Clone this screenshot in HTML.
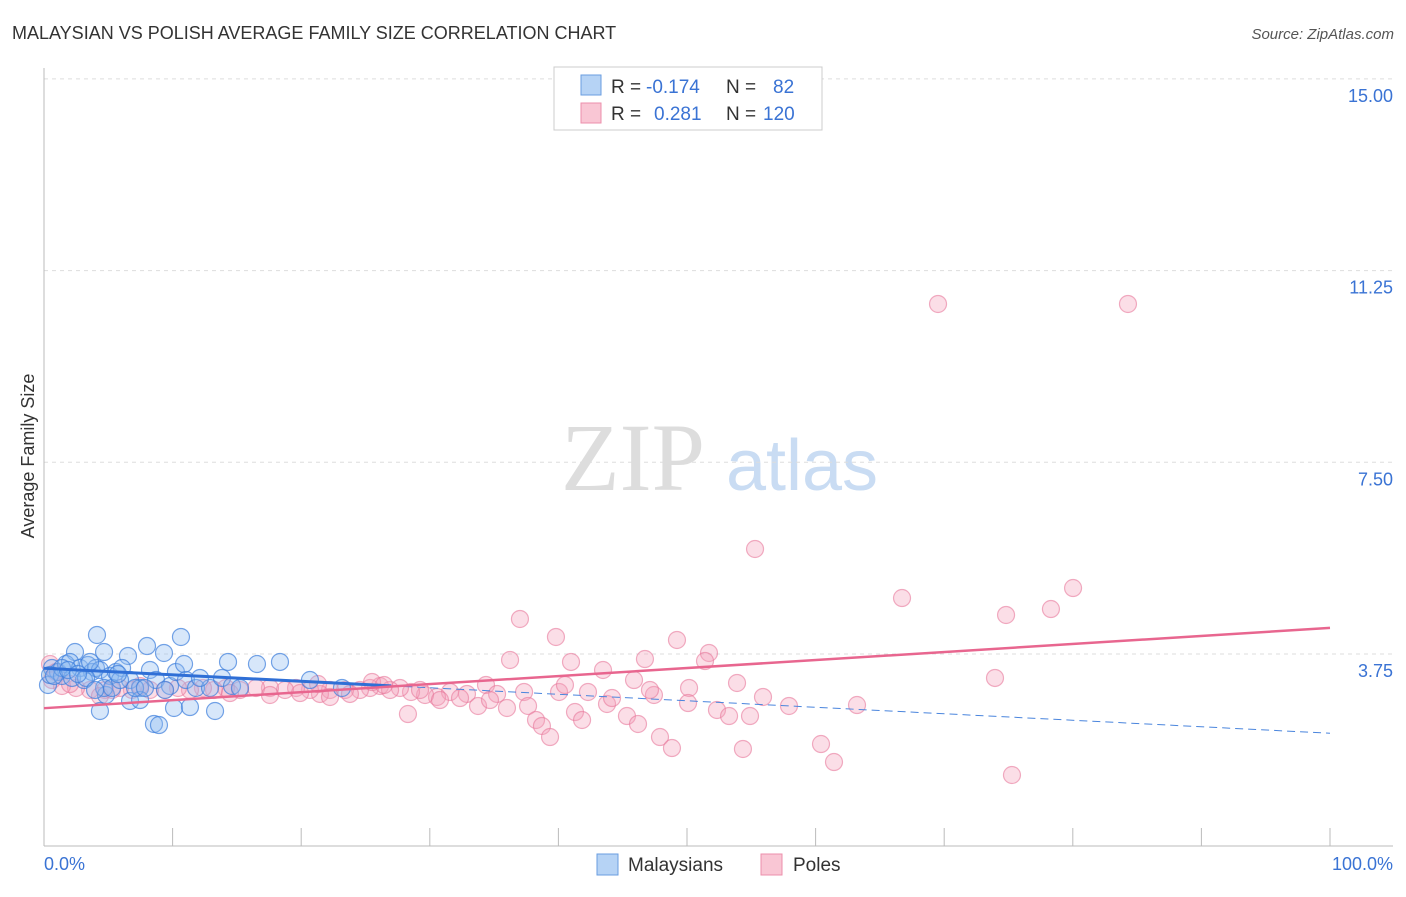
<!DOCTYPE html>
<html><head><meta charset="utf-8"><style>
body{margin:0;background:#fff;font-family:"Liberation Sans",sans-serif}
svg text{font-family:"Liberation Sans",sans-serif}
</style></head><body>
<svg id="chart" width="1406" height="892" viewBox="0 0 1406 892">
<text x="12" y="39" font-size="18" fill="#333">MALAYSIAN VS POLISH AVERAGE FAMILY SIZE CORRELATION CHART</text>
<text x="1394" y="39" font-size="15" fill="#555" font-style="italic" text-anchor="end">Source: ZipAtlas.com</text>
<text x="0" y="0" font-size="18" fill="#333" text-anchor="middle" transform="translate(34,456) rotate(-90)">Average Family Size</text>
<g>
<text x="633" y="490" font-size="96" fill="#ddd" text-anchor="middle" font-family="Liberation Serif,serif" style="font-family:'Liberation Serif',serif">ZIP</text>
<text x="802" y="490" font-size="72" fill="#c9dcf3" text-anchor="middle">atlas</text>
</g>
<g id="grid"></g>
<g id="axes"></g>
<g id="marks"></g>
<g>
<rect x="554" y="67" width="268" height="63" fill="#fff" stroke="#ccc"/>
<rect x="581" y="75" width="20" height="20" fill="#b6d3f5" stroke="#6a9ee0"/>
<rect x="581" y="103" width="20" height="20" fill="#f9c6d4" stroke="#ec8fab"/>
<text x="611" y="93" font-size="19" fill="#333">R =</text>
<text x="646" y="93" font-size="19" fill="#3a73d4">-0.174</text>
<text x="726" y="93" font-size="19" fill="#333">N =</text>
<text x="773" y="93" font-size="19" fill="#3a73d4">82</text>
<text x="611" y="120" font-size="19" fill="#333">R =</text>
<text x="654" y="120" font-size="19" fill="#3a73d4">0.281</text>
<text x="726" y="120" font-size="19" fill="#333">N =</text>
<text x="763" y="120" font-size="19" fill="#3a73d4">120</text>
</g>
<g>
<rect x="597" y="854" width="21" height="21" fill="#b6d3f5" stroke="#6a9ee0"/>
<text x="628" y="871" font-size="19" fill="#333">Malaysians</text>
<rect x="761" y="854" width="21" height="21" fill="#f9c6d4" stroke="#ec8fab"/>
<text x="793" y="871" font-size="19" fill="#333">Poles</text>
</g>
</svg>
<script>
const yTicks=[3.75,7.5,11.25,15];
const yTickLabels=["3.75","7.50","11.25","15.00"];
const xTickLabels=["0.0%","100.0%"];
const bluePx=[[97,635],[75,652],[104,652],[128,656],[147,646],[164,653],[181,637],[228,662],[257,664],[280,662],[310,680],[342,688],[52,668],[58,672],[66,664],[70,662],[80,668],[88,665],[92,672],[96,668],[100,670],[110,676],[116,672],[122,668],[130,680],[140,688],[150,670],[156,680],[170,686],[176,672],[184,664],[186,680],[196,688],[210,688],[222,678],[232,686],[240,688],[100,711],[130,701],[140,700],[174,708],[190,707],[215,711],[154,724],[159,725],[106,695],[104,688],[48,685],[50,675],[62,676],[72,678],[84,680],[112,688],[120,680],[135,688],[145,688],[165,690],[200,678],[62,668],[54,676],[86,678],[95,690],[68,670],[78,674],[90,662],[118,674]];
const pinkPx=[[938,304],[1128,304],[755,549],[1073,588],[902,598],[1051,609],[1006,615],[520,619],[556,637],[677,640],[709,653],[705,661],[645,659],[571,662],[510,660],[603,670],[634,680],[995,678],[737,683],[689,688],[486,685],[588,692],[559,692],[654,695],[763,697],[524,692],[497,694],[467,694],[450,692],[437,697],[425,695],[411,692],[400,688],[380,686],[370,688],[360,690],[345,690],[330,690],[320,694],[310,690],[296,688],[285,690],[270,688],[256,688],[240,690],[226,688],[214,690],[203,688],[190,690],[178,688],[165,690],[150,690],[132,690],[120,688],[105,690],[90,690],[76,688],[62,686],[50,664],[52,680],[56,672],[70,684],[408,714],[478,706],[507,708],[528,706],[575,712],[607,704],[627,716],[688,703],[717,710],[729,716],[750,716],[789,706],[857,705],[536,720],[542,726],[582,720],[638,724],[660,737],[672,748],[743,749],[550,737],[821,744],[834,762],[1012,775],[440,700],[460,698],[490,700],[612,698],[650,690],[565,685],[270,695],[230,693],[330,697],[350,694],[390,690],[420,690],[100,696],[112,690],[140,686],[300,693],[318,684],[372,682],[384,685]];
// convert readings to data values (x in %, y in family size)
const blueX=bluePx.map(p=>+((p[0]-44)/12.86).toFixed(2));
const blueY=bluePx.map(p=>+((845.7-p[1])/51.12).toFixed(3));
const pinkX=pinkPx.map(p=>+((p[0]-44)/12.86).toFixed(2));
const pinkY=pinkPx.map(p=>+((845.7-p[1])/51.12).toFixed(3));
const pinkTrend=[2.69,4.26];
const blueTrend=[3.47,2.20];
const X=v=>44+v*12.86, Y=v=>845.7-v*51.12;
const NS="http://www.w3.org/2000/svg";
function mk(tag,attrs,parent){const e=document.createElementNS(NS,tag);for(const k in attrs)e.setAttribute(k,attrs[k]);parent.appendChild(e);return e;}
const grid=document.getElementById('grid'),axes=document.getElementById('axes'),marks=document.getElementById('marks');
yTicks.forEach((t,i)=>{
 const l=mk('line',{x1:44,x2:1393,y1:Y(t),y2:Y(t),stroke:'#ddd','stroke-dasharray':'4,4'},grid);
 
 
 const tx=mk('text',{x:1393,y:Y(t)+23,'font-size':18,fill:'#3a73d4','text-anchor':'end'},axes);
 tx.textContent=yTickLabels[i];
 
 
});
const yax=mk('line',{x1:44,x2:44,y1:68,y2:846,stroke:'#bbb'},axes);


const xax=mk('line',{x1:44,x2:1393,y1:846,y2:846,stroke:'#bbb'},axes);


for(let i=0;i<=10;i++){const t=mk('line',{x1:X(i*10),x2:X(i*10),y1:828,y2:846,stroke:'#bbb'},axes);
 
 }
const xl0=mk('text',{x:44,y:870,'font-size':18,fill:'#3a73d4'},axes);xl0.textContent=xTickLabels[0];


const xl1=mk('text',{x:1393,y:870,'font-size':18,fill:'#3a73d4','text-anchor':'end'},axes);xl1.textContent=xTickLabels[1];


pinkX.forEach((x,i)=>{const c=mk('circle',{cx:X(x),cy:Y(pinkY[i]),r:8.5,fill:'rgba(244,160,186,0.35)',stroke:'rgba(232,120,155,0.6)','stroke-width':1.2},marks);
 
 });
blueX.forEach((x,i)=>{const c=mk('circle',{cx:X(x),cy:Y(blueY[i]),r:8.5,fill:'rgba(140,185,240,0.35)',stroke:'rgba(60,125,220,0.7)','stroke-width':1.2},marks);
 
 });
const by=x=>blueTrend[0]+(blueTrend[1]-blueTrend[0])*x/100;
const bs=mk('line',{x1:X(0),y1:Y(by(0)),x2:X(27),y2:Y(by(27)),stroke:'#2f6fd6','stroke-width':3},marks);


const bd=mk('line',{x1:X(27),y1:Y(by(27)),x2:X(100),y2:Y(by(100)),stroke:'#4a85dd','stroke-width':1,'stroke-dasharray':'8,5'},marks);


const pt=mk('line',{x1:X(0),y1:Y(pinkTrend[0]),x2:X(100),y2:Y(pinkTrend[1]),stroke:'#e8668f','stroke-width':2.5},marks);


</script>
</body></html>
